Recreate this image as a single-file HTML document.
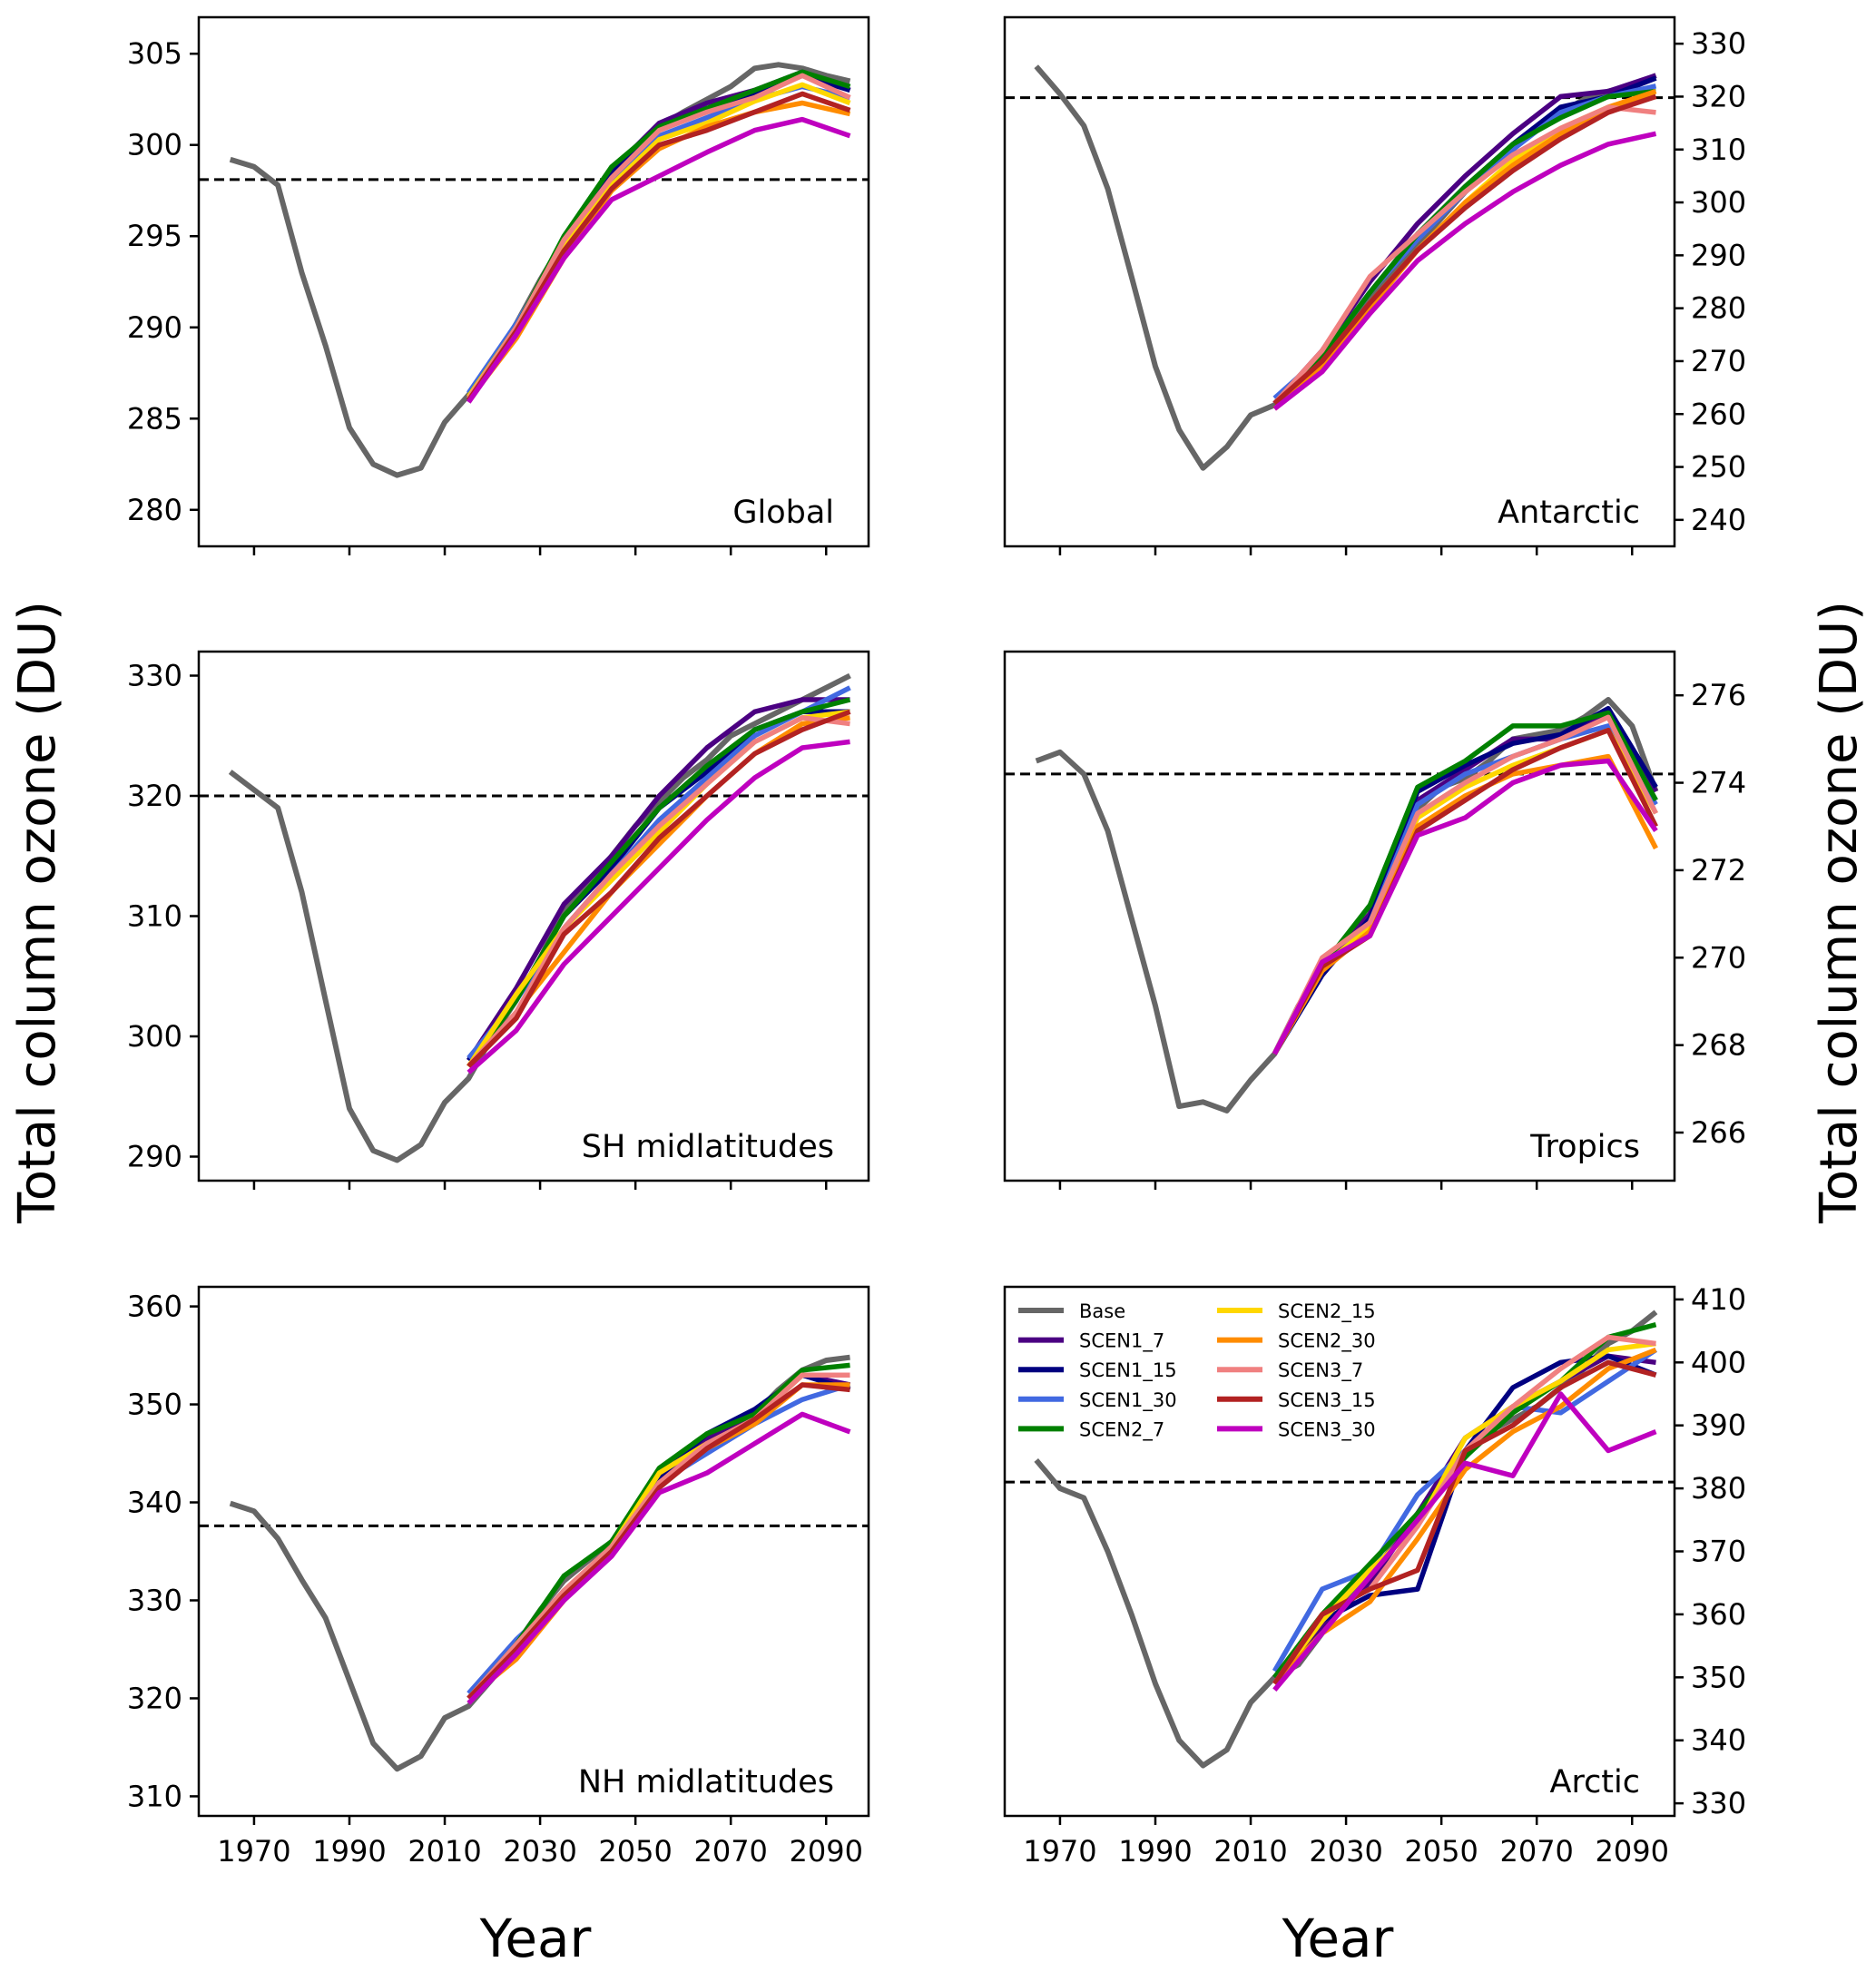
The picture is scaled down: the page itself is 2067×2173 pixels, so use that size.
<!DOCTYPE html>
<html><head><meta charset="utf-8"><style>
html,body{margin:0;padding:0;background:#fff;}
svg{display:block;font-family:"DejaVu Sans","Liberation Sans",sans-serif;}
</style></head><body>
<svg id="fig" width="2067" height="2173" viewBox="0 0 2067 2173" xmlns="http://www.w3.org/2000/svg">
<text x="0" y="0" transform="translate(60,1005) rotate(-90)" text-anchor="middle" font-size="56">Total column ozone (DU)</text>
<text x="0" y="0" transform="translate(2045,1005) rotate(-90)" text-anchor="middle" font-size="56">Total column ozone (DU)</text>
<text x="590" y="2156" text-anchor="middle" font-size="58">Year</text>
<text x="1474" y="2156" text-anchor="middle" font-size="58">Year</text>
</svg>
<script>
const baseYears = [1965,1970,1975,1980,1985,1990,1995,2000,2005,2010,2015,2020,2025,2030,2035,2040,2045,2050,2055,2060,2065,2070,2075,2080,2085,2090,2095];
const scenYears = [2015,2025,2035,2045,2055,2065,2075,2085,2095];
const seriesNames = ["SCEN1_7","SCEN1_15","SCEN1_30","SCEN2_7","SCEN2_15","SCEN2_30","SCEN3_7","SCEN3_15","SCEN3_30"];
const xTicks = [1970,1990,2010,2030,2050,2070,2090];

const globalBase = [299.2,298.8,297.8,293.0,289.0,284.5,282.5,281.9,282.3,284.8,286.3,288.0,290.2,292.6,294.8,296.6,298.3,299.8,301.0,301.8,302.5,303.2,304.2,304.4,304.2,303.8,303.5];
const globalScen = [
[286.2,290.0,294.8,298.6,301.2,302.3,303.0,304.0,303.0],
[286.0,289.8,294.6,298.4,301.0,302.0,302.8,303.8,303.0],
[286.4,290.2,294.5,298.0,300.5,301.5,302.5,303.2,302.6],
[286.2,290.0,295.0,298.8,301.0,302.0,303.0,304.0,303.2],
[286.2,290.0,294.4,297.8,300.3,301.2,302.4,303.3,302.3],
[286.0,289.4,293.8,297.5,299.8,301.0,301.8,302.3,301.7],
[286.1,290.0,294.8,298.2,300.8,301.8,302.6,303.8,302.6],
[286.0,289.8,294.2,297.6,300.0,300.8,301.8,302.8,301.9],
[285.9,289.6,293.8,297.0,298.3,299.6,300.8,301.4,300.5]];
const globalTicks = [280,285,290,295,300,305];

const antBase = [325.7,320.5,314.5,302.6,286,269,257,249.8,253.8,259.8,261.7,266,271,276,282,287,292,297,302,306,310,314,317,319.5,321,322,324];
const antScen = [
[262,272,285,296,305,313,320,321,324],
[262,271,283,294,303,311,318,320,323.5],
[263,271,283,293,302,310,317,320,322],
[261,271,283,294,303,311,316,320,321],
[261,269,281,291,300,308,314,318,320],
[261,269,280,291,300,307,313,318,321],
[262,272,286,294,302,309,314,318,317],
[262,270,281,291,299,306,312,317,320],
[261,268,279,289,296,302,307,311,313]];
const antTicks = [240,250,260,270,280,290,300,310,320,330];

const shBase = [322,320.5,319,312,303,294,290.5,289.7,291,294.5,296.5,300,303,306.5,310.5,312.5,315,317.5,319.5,321.5,323,325,326,327,328,329,330];
const shScen = [
[298,304,311,315,320,324,327,328,328],
[298,303,310,314,319,322,325.5,327,327],
[298.2,303,309,313.5,318,321.5,325,327,329],
[297.5,303,310,314.5,319,322.5,325.5,327,328],
[297.5,303.5,309,313,317,321,324.5,326.5,327],
[297.5,302,307,312,316,320,323.5,326,326.5],
[297.5,302,309,313.5,317.5,321,324.5,326.5,326],
[297.5,301.5,308.5,312,316.5,320,323.5,325.5,327],
[297,300.5,306,310,314,318,321.5,324,324.5]];
const shTicks = [290,300,310,320,330];

const tropBase = [274.5,274.7,274.2,272.9,270.9,268.9,266.6,266.7,266.5,267.2,267.8,268.9,269.7,270.3,271.0,272.2,273.4,273.9,274.1,274.5,275.0,275.1,275.2,275.5,275.9,275.3,273.8];
const tropScen = [
[267.8,269.8,271.0,273.6,274.3,275.0,275.0,275.6,273.8],
[267.8,269.6,270.9,273.8,274.4,274.9,275.1,275.7,273.9],
[267.8,269.7,270.8,273.5,274.2,274.6,275.0,275.3,273.5],
[267.8,269.8,271.2,273.9,274.5,275.3,275.3,275.6,273.6],
[267.8,269.8,270.7,273.2,273.9,274.4,274.8,275.2,273.3],
[267.8,269.7,270.6,273.0,273.7,274.2,274.4,274.6,272.5],
[267.8,270.0,270.8,273.3,274.0,274.6,275.0,275.5,273.3],
[267.8,269.8,270.5,272.9,273.6,274.3,274.8,275.2,273.0],
[267.8,269.9,270.5,272.8,273.2,274.0,274.4,274.5,272.9]];
const tropTicks = [266,268,270,272,274,276];

const nhBase = [339.9,339.1,336.3,332.1,328.2,321.8,315.4,312.8,314.1,318,319.2,322,325.5,329,332,334,336,339,342.5,345,346,347.5,349,351.5,353.5,354.5,354.8];
const nhScen = [
[320,325.5,331,335,342,346.5,349,353,352],
[320,324.5,330.5,335,342.5,347,349.5,353,351.5],
[320.5,326,330.5,335.5,342,345,348,350.5,352],
[320,325.5,332.5,336,343.5,347,349,353.5,354],
[320,325,330.5,335.5,343,346,348.5,353,353],
[320,324,330,335,342,345.5,348,352,352],
[320,325.5,331,335.5,342,346,348.5,353,353],
[320,325,330.5,335,341.5,345.5,348.5,352,351.5],
[319.5,324.5,330,334.5,341,343,346,349,347.2]];
const nhTicks = [310,320,330,340,350,360];

const arcBase = [384.5,380,378.5,370,360,349,340,336,338.5,346,350,352,357,362,366,371,376,381,385,389,391,393,396,399,403,405,408];
const arcScen = [
[350,358,365,376,388,393,397,401,400],
[350,359,363,364,386,396,400,401,398],
[351,364,367,379,386,393,392,397,402],
[350,360,368,376,385,392,397,404,406],
[349,359,367,374,388,393,397,402,403],
[349,357,362,372,383,389,393,399,402],
[349,360,364,374,386,393,399,404,403],
[349,360,364,367,386,390,396,400,398],
[348,357,366,375,384,382,395,386,389]];
const arcTicks = [330,340,350,360,370,380,390,400,410];

const colors = ["#4b0082","#000080","#4169e1","#008000","#ffd700","#ff8c00","#f08080","#b22222","#bf00bf"];
const baseColor = "#666666";
const NS = "http://www.w3.org/2000/svg";
const svg = document.getElementById("fig");
const XMIN = 1958.4, XMAX = 2098.9;

const panels = [
 {name:"global",label:"Global",x0:219,y0:19,side:"left",ylim:[278,307],ref:298.1,base:globalBase,scen:globalScen,ticks:globalTicks,xlab:false},
 {name:"antarctic",label:"Antarctic",x0:1107,y0:19,side:"right",ylim:[235,335],ref:319.8,base:antBase,scen:antScen,ticks:antTicks,xlab:false},
 {name:"sh-midlatitudes",label:"SH midlatitudes",x0:219,y0:718,side:"left",ylim:[288,332],ref:320,base:shBase,scen:shScen,ticks:shTicks,xlab:false},
 {name:"tropics",label:"Tropics",x0:1107,y0:718,side:"right",ylim:[264.9,277],ref:274.2,base:tropBase,scen:tropScen,ticks:tropTicks,xlab:false},
 {name:"nh-midlatitudes",label:"NH midlatitudes",x0:219,y0:1418,side:"left",ylim:[308,362],ref:337.6,base:nhBase,scen:nhScen,ticks:nhTicks,xlab:true},
 {name:"arctic",label:"Arctic",x0:1107,y0:1418,side:"right",ylim:[328,412],ref:381,base:arcBase,scen:arcScen,ticks:arcTicks,xlab:true,legend:true}
];
const W = 738, H = 583;

function mk(tag, attrs, parent){
  const e = document.createElementNS(NS, tag);
  for (const k in attrs) e.setAttribute(k, attrs[k]);
  (parent||svg).appendChild(e);
  return e;
}

panels.forEach(p => {
  const g = mk("g", {});
  
  
  const xs = v => p.x0 + (v - XMIN) / (XMAX - XMIN) * W;
  const ys = v => p.y0 + H - (v - p.ylim[0]) / (p.ylim[1] - p.ylim[0]) * H;
  const clipId = "clip-" + p.name;
  const cp = mk("clipPath", {id: clipId}, g);
  mk("rect", {x:p.x0, y:p.y0, width:W, height:H}, cp);

  const ref = mk("line", {x1:p.x0, x2:p.x0+W, y1:ys(p.ref), y2:ys(p.ref), stroke:"#000", "stroke-width":3, "stroke-dasharray":"11,6"}, g);
  
  

  const lines = mk("g", {"clip-path":"url(#"+clipId+")"}, g);
  const bpts = p.base.map((v,i) => xs(baseYears[i]).toFixed(1)+","+ys(v).toFixed(1)).join(" ");
  const bl = mk("polyline", {points:bpts, fill:"none", stroke:baseColor, "stroke-width":6, "stroke-linejoin":"round"}, lines);
  
  
  p.scen.forEach((s, si) => {
    const pts = s.map((v,i) => xs(scenYears[i]).toFixed(1)+","+ys(v).toFixed(1)).join(" ");
    const l = mk("polyline", {points:pts, fill:"none", stroke:colors[si], "stroke-width":5.5, "stroke-linejoin":"round"}, lines);
    
    
  });

  const frame = mk("rect", {x:p.x0, y:p.y0, width:W, height:H, fill:"none", stroke:"#000", "stroke-width":2.5}, g);
  
  

  xTicks.forEach(t => {
    const x = xs(t);
    const tk = mk("line", {x1:x, x2:x, y1:p.y0+H, y2:p.y0+H+10, stroke:"#000", "stroke-width":2.5}, g);
    
    
    if (p.xlab) {
      const tl = mk("text", {x:x, y:p.y0+H+50, "text-anchor":"middle", "font-size":32}, g);
      tl.textContent = t;
      
      
    }
  });
  p.ticks.forEach(t => {
    const y = ys(t);
    const left = p.side === "left";
    const xe = left ? p.x0 : p.x0 + W;
    const tk = mk("line", {x1:xe, x2: left ? xe-10 : xe+10, y1:y, y2:y, stroke:"#000", "stroke-width":2.5}, g);
    
    
    const tl = mk("text", {x: left ? xe-18 : xe+18, y:y+11, "text-anchor": left ? "end" : "start", "font-size":32}, g);
    tl.textContent = t;
    
    
  });
  const lab = mk("text", {x:p.x0+W-38, y:p.y0+H-26, "text-anchor":"end", "font-size":35}, g);
  lab.textContent = p.label;
  
  

  if (p.legend) {
    const lg = mk("g", {}, g);
    
    
    const names = ["Base"].concat(seriesNames);
    const cols = [baseColor].concat(colors);
    names.forEach((n, i) => {
      const col = i < 5 ? 0 : 1;
      const row = i % 5;
      const lx = col === 0 ? 1122 : 1341;
      const ly = 1444 + row * 32.6;
      const en = mk("g", {}, lg);
      
      
      mk("line", {x1:lx, x2:lx+50, y1:ly, y2:ly, stroke:cols[i], "stroke-width":6}, en);
      const t = mk("text", {x:lx+67, y:ly+8, "font-size":21}, en);
      t.textContent = n;
    });
  }
});
</script>
</body></html>
